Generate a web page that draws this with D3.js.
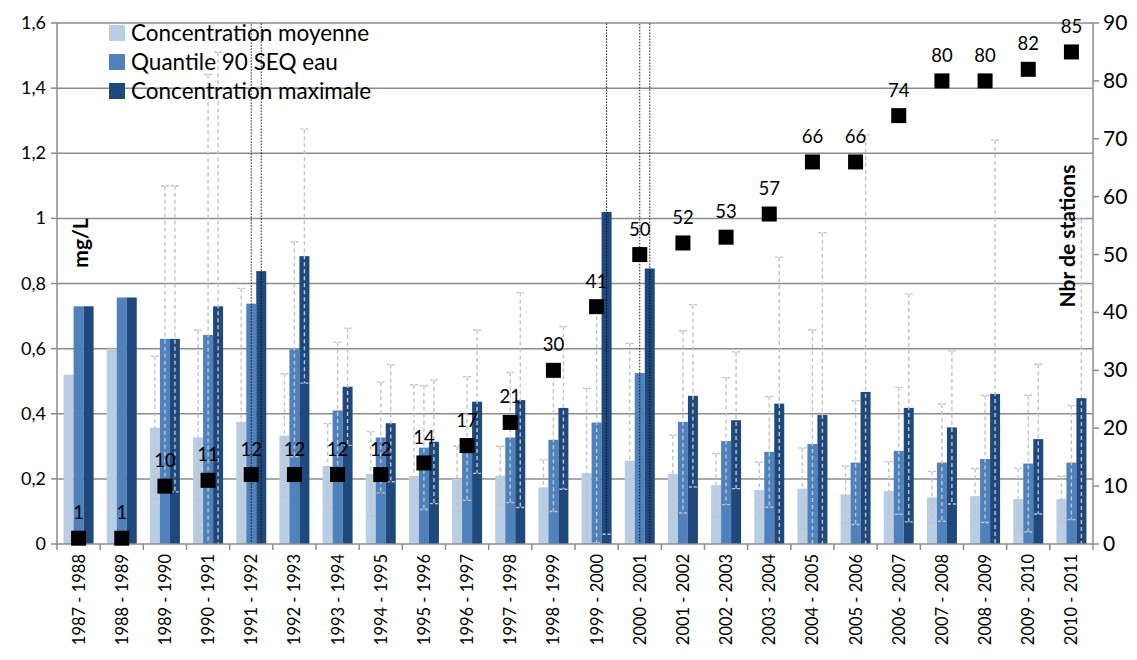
<!DOCTYPE html>
<html><head><meta charset="utf-8">
<script src="https://cdn.jsdelivr.net/npm/d3@7"></script>
<style>body{margin:0;background:#fff}</style></head>
<body><svg id="c" width="1137" height="660"></svg>
<script>
const categories=["1987 - 1988","1988 - 1989","1989 - 1990","1990 - 1991","1991 - 1992","1992 - 1993","1993 - 1994","1994 - 1995","1995 - 1996","1996 - 1997","1997 - 1998","1998 - 1999","1999 - 2000","2000 - 2001","2001 - 2002","2002 - 2003","2003 - 2004","2004 - 2005","2005 - 2006","2006 - 2007","2007 - 2008","2008 - 2009","2009 - 2010","2010 - 2011"];
const meanVals=[0.52,0.60,0.357,0.327,0.375,0.333,0.24,0.215,0.209,0.20,0.21,0.174,0.218,0.256,0.215,0.181,0.166,0.17,0.152,0.163,0.143,0.147,0.138,0.138];
const meanErr=[0,0,0.22,0.33,0.41,0.19,0.13,0.13,0.28,0.10,0.09,0.085,0.26,0.36,0.12,0.097,0.085,0.125,0.088,0.09,0.08,0.085,0.095,0.07];
const q90Vals=[0.73,0.757,0.63,0.642,0.738,0.598,0.41,0.327,0.296,0.324,0.327,0.32,0.373,0.525,0.375,0.316,0.283,0.307,0.25,0.286,0.25,0.261,0.247,0.25];
const q90Err=[0,0,0.47,0.80,0.95,0.33,0.21,0.17,0.19,0.19,0.20,0.22,0.37,1.1,0.28,0.195,0.17,0.35,0.19,0.195,0.18,0.195,0.21,0.175];
const maxVals=[0.73,0.757,0.63,0.73,0.838,0.884,0.483,0.371,0.314,0.437,0.442,0.418,1.02,0.846,0.455,0.38,0.431,0.396,0.467,0.418,0.358,0.461,0.322,0.448];
const maxErr=[0,0,0.47,0.78,0.95,0.39,0.18,0.18,0.19,0.22,0.33,0.25,0.99,0.9,0.28,0.21,0.45,0.56,0.79,0.35,0.235,0.78,0.23,0.55];
const stations=[1,1,10,11,12,12,12,12,14,17,21,30,41,50,52,53,57,66,66,74,80,80,82,85];
const leftTicks=[0,0.2,0.4,0.6,0.8,1,1.2,1.4,1.6];
const rightTicks=[0,10,20,30,40,50,60,70,80,90];
const seriesNames=["Concentration moyenne","Quantile 90 SEQ eau","Concentration maximale"];
const colors=["#b9cde5","#4f81bd","#1f497d"];

const svg=d3.select("#c");
const F="Lato, 'Open Sans', sans-serif";
const L=57,R=1093,T=23,B=544;
const x=d3.scaleBand().domain(categories).range([L,R]);
const y=d3.scaleLinear().domain([0,1.6]).range([B,T]);
const y2=d3.scaleLinear().domain([0,90]).range([B,T]);

svg.append("g").selectAll("line").data(leftTicks.slice(1)).join("line")
 .attr("x1",L).attr("x2",R).attr("y1",d=>y(d)).attr("y2",d=>y(d))
 .attr("stroke","#8c8c8c").attr("stroke-width",1.5);

const series=[meanVals,q90Vals,maxVals], errs=[meanErr,q90Err,maxErr];
const bw=10, offs=[-15,-5,5];
svg.append("clipPath").attr("id","pc").append("rect").attr("x",L).attr("y",T).attr("width",R-L).attr("height",B-T);
series.forEach((vals,s)=>{
  svg.append("g").selectAll("rect").data(vals).join("rect")
   .attr("x",(d,i)=>x(categories[i])+x.bandwidth()/2+offs[s]).attr("width",bw)
   .attr("y",d=>y(d)).attr("height",d=>B-y(d)).attr("fill",colors[s]);
});
const eg=svg.append("g").attr("clip-path","url(#pc)");
series.forEach((vals,s)=>{
  vals.forEach((v,i)=>{
    const e=errs[s][i]; if(!e) return;
    const cx=x(categories[i])+x.bandwidth()/2+offs[s]+bw/2;
    const hi=v+e, lo=Math.max(0,v-e), over=hi>1.6;
    const st=over?"#000":"#c4c4c4", da=over?"1.5,1.5":"4,3", sw=over?0.9:1.4;
    eg.append("line").attr("x1",cx).attr("x2",cx).attr("y1",y(Math.min(hi,1.7))).attr("y2",y(lo))
      .attr("stroke",st).attr("stroke-dasharray",da).attr("stroke-width",sw);
    const caps=[lo>0?lo:null, over?null:hi];
    caps.forEach(c=>{ if(c===null) return;
      eg.append("line").attr("x1",cx-4).attr("x2",cx+4).attr("y1",y(c)).attr("y2",y(c))
        .attr("stroke","#c4c4c4").attr("stroke-width",1.4).attr("stroke-dasharray","3,2");});
  });
});
const ax=svg.append("g").attr("stroke","#8c8c8c").attr("stroke-width",1.5);
ax.append("line").attr("x1",L).attr("x2",L).attr("y1",T).attr("y2",B);
ax.append("line").attr("x1",R).attr("x2",R).attr("y1",T).attr("y2",B);
ax.append("line").attr("x1",L).attr("x2",R).attr("y1",B).attr("y2",B);
leftTicks.forEach(t=>ax.append("line").attr("x1",L-6).attr("x2",L).attr("y1",y(t)).attr("y2",y(t)));
rightTicks.forEach(t=>ax.append("line").attr("x1",R).attr("x2",R+6).attr("y1",y2(t)).attr("y2",y2(t)));
categories.concat([null]).forEach((c,i)=>{const xx=L+i*x.bandwidth();ax.append("line").attr("x1",xx).attr("x2",xx).attr("y1",B).attr("y2",B+6);});

svg.append("g").selectAll("text").data(leftTicks).join("text")
 .attr("x",L-11).attr("y",d=>y(d)+6).attr("text-anchor","end").attr("font-family",F).attr("font-size",18)
 .text(d=>d3.format(".1f")(d).replace(".",",").replace(",0",""));
svg.append("g").selectAll("text").data(rightTicks).join("text")
 .attr("x",R+10).attr("y",d=>y2(d)+7).attr("font-family",F).attr("font-size",21).text(d=>d);
svg.append("g").selectAll("text").data(categories).join("text")
 .attr("transform",d=>`translate(${x(d)+x.bandwidth()/2+6},${B+10}) rotate(-90)`)
 .attr("text-anchor","end").attr("font-family",F).attr("font-size",16.5).text(d=>d);

svg.append("text").attr("transform","translate(88,243) rotate(-90)").attr("text-anchor","middle")
 .attr("font-family",F).attr("font-weight","bold").attr("font-size",21).text("mg/L");
svg.append("text").attr("transform","translate(1075,236) rotate(-90)").attr("text-anchor","middle")
 .attr("font-family",F).attr("font-weight","bold").attr("font-size",21).text("Nbr de stations");

const sq=15;
svg.append("g").selectAll("rect").data(stations).join("rect")
 .attr("x",(d,i)=>x(categories[i])+x.bandwidth()/2-sq/2).attr("y",d=>y2(d)-sq/2)
 .attr("width",sq).attr("height",sq).attr("fill","#000");
svg.append("g").selectAll("text").data(stations).join("text")
 .attr("x",(d,i)=>x(categories[i])+x.bandwidth()/2).attr("y",d=>y2(d)-19)
 .attr("text-anchor","middle").attr("font-family",F).attr("font-size",18.5).text(d=>d);

const lg=svg.append("g");
seriesNames.forEach((n,i)=>{
  lg.append("rect").attr("x",109).attr("y",25+i*29).attr("width",16).attr("height",16).attr("fill",colors[i]);
  lg.append("text").attr("x",131).attr("y",41+i*29).attr("font-family",F).attr("font-size",22.5).text(n);
});
</script></body></html>
